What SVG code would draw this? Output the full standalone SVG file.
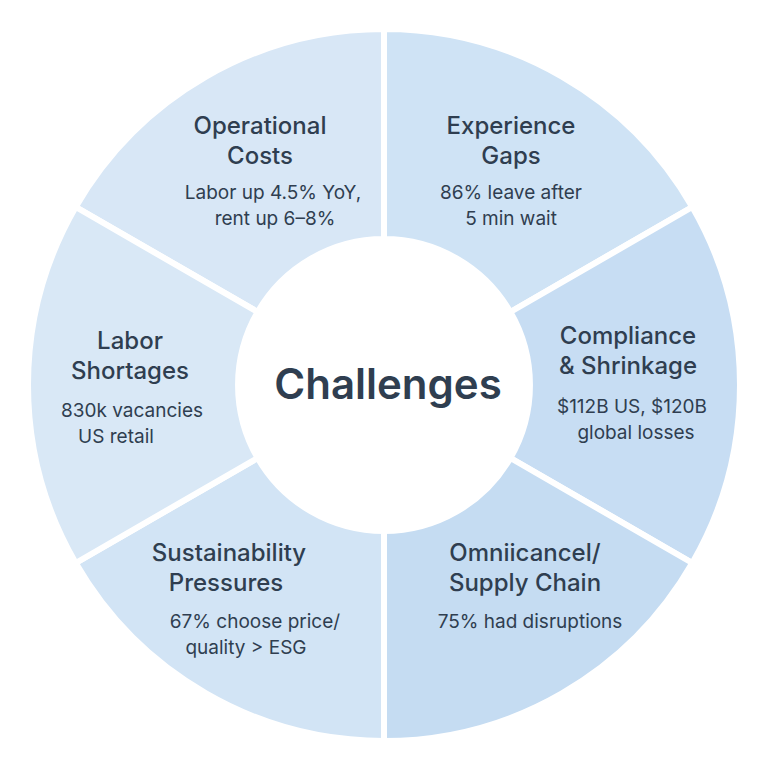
<svg xmlns="http://www.w3.org/2000/svg" width="768" height="768" viewBox="0 0 768 768">
<style>
.seg{stroke:#fff;stroke-width:6}
text{font-family:Inter,"Liberation Sans",sans-serif;fill:#2f3e50;text-anchor:middle}
.t{font-size:24px;font-weight:500}
.b{font-size:19px}
</style>
<rect width="768" height="768" fill="#fff"/>
<g id="operational"><path class="seg" fill="#d8e7f6" d="M75.7 207 A356 356 0 0 1 384 29 L384 239 A146 146 0 0 0 257.6 312 Z"/>
<text class="t" x="260" y="134">Operational</text><text class="t" x="260" y="164">Costs</text>
<text class="b" x="273" y="199">Labor up 4.5% YoY,</text><text class="b" x="275" y="225">rent up 6–8%</text></g>
<g id="experience"><path class="seg" fill="#cfe3f5" d="M384 29 A356 356 0 0 1 692.3 207 L510.4 312 A146 146 0 0 0 384 239 Z"/>
<text class="t" x="511" y="134">Experience</text><text class="t" x="511" y="164">Gaps</text>
<text class="b" x="511" y="199">86% leave after</text><text class="b" x="511" y="225">5 min wait</text></g>
<g id="compliance"><path class="seg" fill="#c7ddf3" d="M692.3 207 A356 356 0 0 1 692.3 563 L510.4 458 A146 146 0 0 0 510.4 312 Z"/>
<text class="t" x="628" y="344">Compliance</text><text class="t" x="628" y="374">&amp; Shrinkage</text>
<text class="b" x="632" y="413">$112B US, $120B</text><text class="b" x="636" y="439">global losses</text></g>
<g id="omni"><path class="seg" fill="#c5dcf2" d="M692.3 563 A356 356 0 0 1 384 741 L384 531 A146 146 0 0 0 510.4 458 Z"/>
<text class="t" x="525" y="561">Omniicancel/</text><text class="t" x="525" y="591">Supply Chain</text>
<text class="b" x="530" y="628">75% had disruptions</text></g>
<g id="sustain"><path class="seg" fill="#d2e4f5" d="M384 741 A356 356 0 0 1 75.7 563 L257.6 458 A146 146 0 0 0 384 531 Z"/>
<text class="t" x="229" y="561">Sustainability</text><text class="t" x="226" y="591">Pressures</text>
<text class="b" x="255" y="628">67% choose price/</text><text class="b" x="246" y="654">quality &gt; ESG</text></g>
<g id="labor"><path class="seg" fill="#d9e8f6" d="M75.7 563 A356 356 0 0 1 75.7 207 L257.6 312 A146 146 0 0 0 257.6 458 Z"/>
<text class="t" x="130" y="349">Labor</text><text class="t" x="130" y="379">Shortages</text>
<text class="b" x="132" y="417">830k vacancies</text><text class="b" x="116" y="443">US retail</text></g>
<g id="center"><circle cx="384" cy="385" r="143" fill="#fff"/>
<text x="388" y="399" style="font-size:42px;font-weight:600">Challenges</text></g>
<g id="connectors"/>
</svg>
